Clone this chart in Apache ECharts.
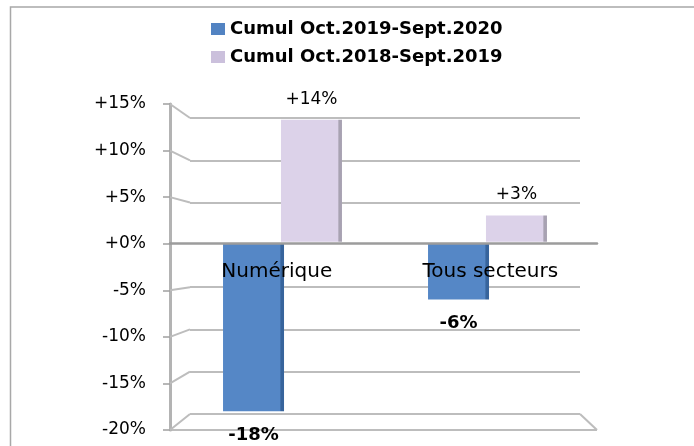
<!DOCTYPE html>
<html>
<head>
<meta charset="utf-8">
<script src="https://cdn.jsdelivr.net/npm/echarts@6/dist/echarts.min.js"></script>
<style>
  html, body { margin: 0; padding: 0; background: #fff; }
  #chart { width: 694px; height: 446px; }
</style>
</head>
<body>
<div id="chart"></div>
<script>
// données
var categories = ['Numérique', 'Tous secteurs'];
var seriesNames = ['Cumul Oct.2019-Sept.2020', 'Cumul Oct.2018-Sept.2019'];
var cumul2020 = [-18, -6];
var cumul2019 = [14, 3];
var yMin = -20, yMax = 15, yStep = 5;

// plan avant / plan de la 2e série / paroi du fond (pseudo 3D)
var front = { left: 170, right: 97, top: 104, bottom: 16 };
var back = { left: 190, right: 114, top: 118, bottom: 32 };
// bandes des barres (perspective : légèrement resserrées)
var frontBars = { left: 180, right: 104, top: 104, bottom: 16 };
var midBars = { left: 180, right: 104, top: 111, bottom: 30 };

var lineGrey = '#bdbdbd';
var font = 'DejaVu Sans';
var clear = 'rgba(0,0,0,0)';

function pct(v) { return (v >= 0 ? '+' : '') + v + '%'; }
function blank() { return categories.map(function () { return '-'; }); }
function shade(main, edge) {
  return new echarts.graphic.LinearGradient(0, 0, 1, 0, [
    { offset: 0, color: main }, { offset: 0.93, color: main },
    { offset: 0.95, color: edge }, { offset: 1, color: edge }
  ]);
}
function gridOf(g) {
  return { left: g.left, right: g.right, top: g.top, bottom: g.bottom, containLabel: false, outerBoundsMode: 'none' };
}
function hiddenX(i) { return { gridIndex: i, type: 'category', data: categories, show: false }; }
function hiddenY(i) { return { gridIndex: i, type: 'value', min: yMin, max: yMax, interval: yStep, show: false, splitLine: { show: false } }; }

var chart = echarts.init(document.getElementById('chart'));
var option = {
  animation: false,
  legend: {
    orient: 'vertical',
    left: 206, top: 15,
    icon: 'rect',
    itemWidth: 14, itemHeight: 12, itemGap: 10,
    data: [
      { name: seriesNames[0], itemStyle: { color: '#5283c2' } },
      { name: seriesNames[1], itemStyle: { color: '#cbc0dc' } }
    ],
    textStyle: { fontFamily: font, fontSize: 18, fontWeight: 'bold', color: '#000' }
  },
  grid: [gridOf(front), gridOf(midBars), gridOf(back), gridOf(frontBars)],
  xAxis: [
    {
      gridIndex: 0, type: 'category', data: categories, position: 'top', z: 5,
      axisLine: { onZero: true, lineStyle: { color: '#9c9c9c', width: 2.5 } },
      axisTick: { inside: true, length: 7, lineStyle: { color: '#9c9c9c', width: 2 } },
      axisLabel: { inside: true, margin: 18, fontFamily: font, fontSize: 20, color: '#000' }
    },
    hiddenX(1), hiddenX(2), hiddenX(3)
  ],
  yAxis: [
    {
      gridIndex: 0, type: 'value', min: yMin, max: yMax, interval: yStep,
      axisLine: { show: true, lineStyle: { color: '#b3b3b3', width: 3 } },
      axisTick: { show: true, length: 7, lineStyle: { color: '#a0a0a0', width: 1.5 } },
      axisLabel: { margin: 24, formatter: pct, fontFamily: font, fontSize: 17, color: '#000' },
      // seule la ligne du sol (-20%) est visible au premier plan
      splitLine: { show: true, lineStyle: { width: 2, color: [lineGrey, clear, clear, clear, clear, clear, clear, clear] } }
    },
    hiddenY(1),
    {
      gridIndex: 2, type: 'value', min: yMin, max: yMax, interval: yStep,
      axisLine: { show: false }, axisTick: { show: false }, axisLabel: { show: false },
      // la ligne du zéro est portée par l'axe des catégories
      splitLine: { show: true, lineStyle: { width: 2, color: [lineGrey, lineGrey, lineGrey, lineGrey, clear, lineGrey, lineGrey, lineGrey] } }
    },
    hiddenY(3)
  ],
  series: [
    { name: '_a', type: 'bar', xAxisIndex: 1, yAxisIndex: 1, data: blank(), barWidth: 61 },
    {
      name: seriesNames[1], type: 'bar', xAxisIndex: 1, yAxisIndex: 1,
      data: cumul2019, barWidth: 61, barGap: '-5%',
      itemStyle: { color: shade('#dcd2e9', '#a8a2b2') },
      label: { show: true, position: 'top', distance: 12, formatter: function (p) { return pct(p.value); },
        fontFamily: font, fontSize: 17, color: '#000' }
    },
    {
      name: seriesNames[0], type: 'bar', xAxisIndex: 3, yAxisIndex: 3,
      data: cumul2020, barWidth: 61,
      itemStyle: { color: shade('#5587c6', '#37649c') },
      label: { show: true, position: 'bottom', distance: 15, formatter: function (p) { return pct(p.value); },
        fontFamily: font, fontSize: 18, fontWeight: 'bold', color: '#000' }
    },
    { name: '_b', type: 'bar', xAxisIndex: 3, yAxisIndex: 3, data: blank(), barWidth: 61, barGap: '-5%' }
  ]
};
chart.setOption(option);

// les libellés de catégories restent sous la ligne du zéro
var zeroY = chart.convertToPixel({ yAxisIndex: 0 }, 0);
chart.setOption({ xAxis: [{ axisLabel: { margin: zeroY - front.top + 18 } }] });

// cadre + arêtes obliques reliant le plan avant à la paroi du fond
var deco = [{
  type: 'rect', shape: { x: 10.5, y: 7, width: 720, height: 460 },
  style: { fill: 'none', stroke: '#a8a8a8', lineWidth: 1.5 }, z: 0
}];
for (var v = yMin; v <= yMax; v += yStep) {
  if (v === 0) continue;
  deco.push({
    type: 'line', z: 1,
    shape: { x1: front.left, y1: chart.convertToPixel({ yAxisIndex: 0 }, v),
             x2: back.left, y2: chart.convertToPixel({ yAxisIndex: 2 }, v) },
    style: { stroke: lineGrey, lineWidth: 2 }
  });
}
deco.push({
  type: 'line', z: 1,
  shape: { x1: 694 - back.right, y1: chart.convertToPixel({ yAxisIndex: 2 }, yMin),
           x2: 694 - front.right, y2: chart.convertToPixel({ yAxisIndex: 0 }, yMin) },
  style: { stroke: lineGrey, lineWidth: 2 }
});
chart.setOption({ graphic: deco });
</script>
</body>
</html>
